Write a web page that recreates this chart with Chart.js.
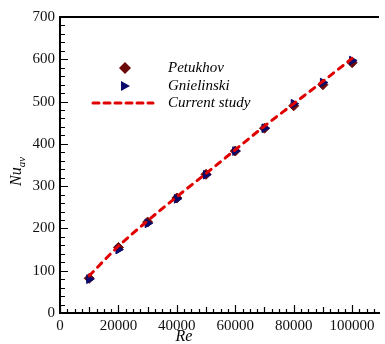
<!DOCTYPE html>
<html>
<head>
<meta charset="utf-8">
<script src="https://cdn.jsdelivr.net/npm/chart.js@4/dist/chart.umd.min.js"></script>
<style>
  html, body { margin: 0; padding: 0; background: #fff; }
  #wrap { width: 385px; height: 344px; }
</style>
</head>
<body>
<div id="wrap"><canvas id="myChart" width="385" height="344"></canvas></div>
<script>
var re = [10000, 20000, 30000, 40000, 50000, 60000, 70000, 80000, 90000, 100000];
var petukhov = [82, 155, 215, 272, 328, 383, 437, 490, 540, 592];
var gnielinski = [80, 150, 212, 270, 327, 383, 437, 495, 545, 597];
var currentStudy = [88, 158, 218, 275, 330, 386, 442, 495, 548, 602];
var xTicks = [0, 20000, 40000, 60000, 80000, 100000];
var yTicks = [0, 100, 200, 300, 400, 500, 600, 700];

var serif = "'Liberation Serif', 'DejaVu Serif', serif";

function pts(xs, ys) {
    return xs.map(function (x, i) { return { x: x, y: ys[i] }; });
}

// inward ticks, top border, legend and axis titles
var decor = {
    id: 'decor',
    afterDraw: function (chart) {
        var c = chart.ctx, a = chart.chartArea;
        var xs = chart.scales.x, ys = chart.scales.y;
        c.save();
        c.strokeStyle = '#000';
        c.lineWidth = 1.2;
        c.beginPath();
        for (var v = 0; v <= 700; v += 20) {
            var py = Math.round(ys.getPixelForValue(v)) + 0.5;
            var len = (v % 100 === 0) ? 8 : 5;
            c.moveTo(a.left, py); c.lineTo(a.left + len, py);
        }
        for (var u = 0; u <= 108000; u += 2500) {
            var px = Math.round(xs.getPixelForValue(u)) + 0.5;
            var l2 = (u % 20000 === 0) ? 8 : (u % 10000 === 0 ? 6 : 4);
            c.moveTo(px, a.bottom); c.lineTo(px, a.bottom - l2);
        }
        c.stroke();
        c.lineWidth = 2;
        c.beginPath();
        c.moveTo(a.left, a.top); c.lineTo(a.right, a.top);
        c.stroke();

        // legend
        c.fillStyle = '#6b0a0a';
        c.beginPath();
        c.moveTo(125, 62); c.lineTo(131, 68); c.lineTo(125, 74); c.lineTo(119, 68);
        c.closePath(); c.fill();
        c.fillStyle = '#0a0a6b';
        c.beginPath();
        c.moveTo(121, 81); c.lineTo(130, 86); c.lineTo(121, 91);
        c.closePath(); c.fill();
        c.strokeStyle = '#e00000';
        c.lineWidth = 3;
        c.setLineDash([6, 5]);
        c.lineCap = 'round';
        c.beginPath();
        c.moveTo(93, 103); c.lineTo(153, 103);
        c.stroke();
        c.setLineDash([]);

        c.fillStyle = '#000';
        c.font = 'italic 15px ' + serif;
        c.textAlign = 'left';
        c.textBaseline = 'middle';
        c.fillText('Petukhov', 168, 68);
        c.fillText('Gnielinski', 168, 86);
        c.fillText('Current study', 168, 103);

        // axis titles
        c.font = 'italic 16px ' + serif;
        c.textAlign = 'center';
        c.textBaseline = 'alphabetic';
        c.fillText('Re', 184, 341);

        c.translate(21, 170);
        c.rotate(-Math.PI / 2);
        c.textAlign = 'left';
        c.font = 'italic 16px ' + serif;
        c.fillText('Nu', -16, 0);
        var w = c.measureText('Nu').width;
        c.font = 'italic 11px ' + serif;
        c.fillText('av', -16 + w, 4);
        c.restore();
    }
};

function plain(v) { return String(v); }

var ctx = document.getElementById("myChart");
var myChart = new Chart(ctx, {
    type: 'scatter',
    data: {
        datasets: [
            {
                label: 'Current study',
                data: pts(re, currentStudy),
                showLine: true,
                borderColor: '#e00000',
                borderWidth: 3,
                borderDash: [6, 6],
                borderCapStyle: 'round',
                cubicInterpolationMode: 'monotone',
                pointRadius: 0,
                order: 0
            },
            {
                label: 'Petukhov',
                data: pts(re, petukhov),
                pointStyle: 'rectRot',
                pointRadius: 5,
                backgroundColor: '#6b0a0a',
                borderColor: '#6b0a0a',
                order: 2
            },
            {
                label: 'Gnielinski',
                data: pts(re, gnielinski),
                pointStyle: 'triangle',
                rotation: 90,
                pointRadius: 5,
                backgroundColor: '#0a0a6b',
                borderColor: '#0a0a6b',
                order: 1
            }
        ]
    },
    options: {
        responsive: false,
        animation: false,
        layout: { padding: { top: 17, right: 0, left: 0, bottom: 0 } },
        plugins: {
            legend: { display: false },
            tooltip: { enabled: false }
        },
        scales: {
            x: {
                type: 'linear',
                min: 0,
                max: 109200,
                afterBuildTicks: function (s) {
                    s.ticks = xTicks.map(function (v) { return { value: v }; });
                },
                afterFit: function (s) { s.height = 31; },
                grid: { display: false, drawTicks: false },
                border: { display: true, color: '#000', width: 2 },
                ticks: {
                    color: '#111',
                    padding: 4,
                    maxRotation: 0,
                    callback: plain,
                    font: { family: serif, size: 15 }
                }
            },
            y: {
                min: 0,
                max: 700,
                afterBuildTicks: function (s) {
                    s.ticks = yTicks.map(function (v) { return { value: v }; });
                },
                afterFit: function (s) { s.width = 60; },
                grid: { display: false, drawTicks: false },
                border: { display: true, color: '#000', width: 2 },
                ticks: {
                    color: '#111',
                    padding: 5,
                    callback: plain,
                    font: { family: serif, size: 15 }
                }
            }
        }
    },
    plugins: [decor]
});
</script>
</body>
</html>
